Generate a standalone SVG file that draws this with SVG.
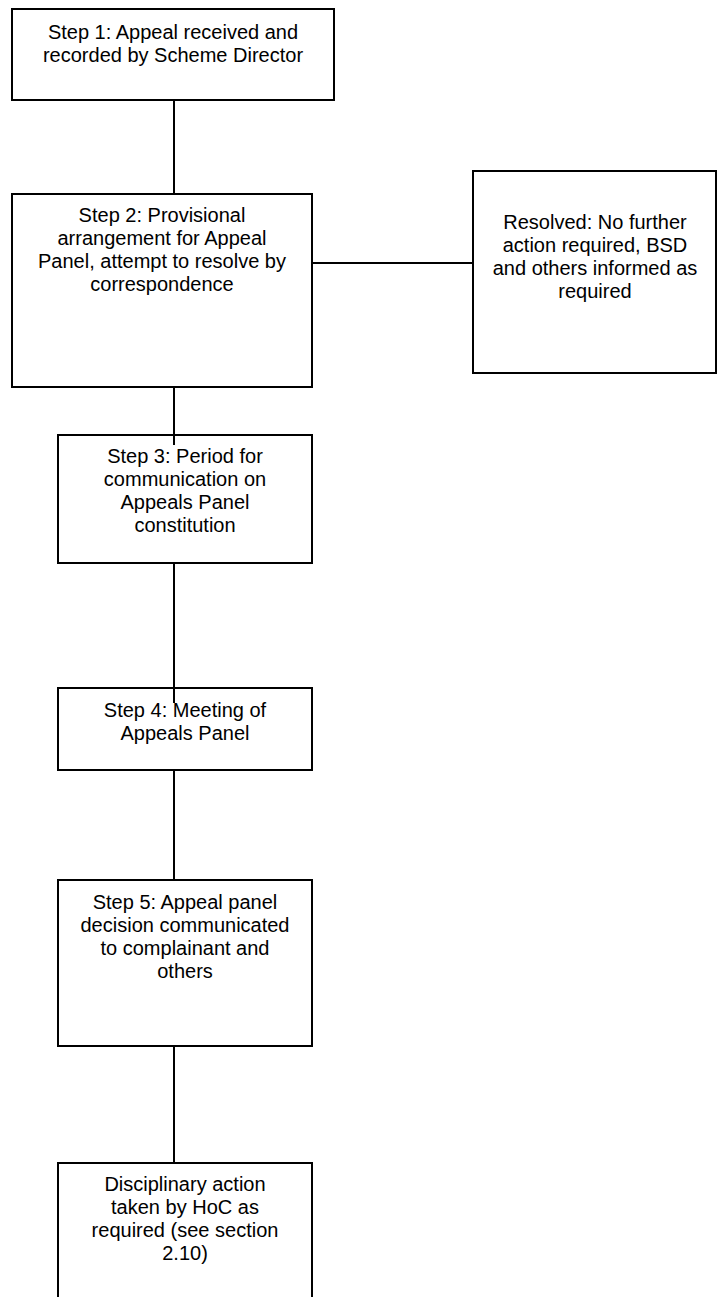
<svg xmlns="http://www.w3.org/2000/svg" width="718" height="1297" viewBox="0 0 718 1297">
<style>
.box{fill:#fff;stroke:#000;stroke-width:2}
.lbl{font-family:"Liberation Sans",Arial,sans-serif;font-size:20px;fill:#000;text-anchor:middle}
.conn{stroke:#000;stroke-width:2;fill:none}
</style>
<rect width="718" height="1297" fill="#fff"/>
<g id="step1">
<rect class="box" x="12" y="9" width="322" height="91"/>
<text class="lbl" x="173" y="38.5">Step 1: Appeal received and</text>
<text class="lbl" x="173" y="61.5">recorded by Scheme Director</text>
</g>
<g id="step2">
<rect class="box" x="12" y="194" width="300" height="193"/>
<text class="lbl" x="162" y="222">Step 2: Provisional</text>
<text class="lbl" x="162" y="245">arrangement for Appeal</text>
<text class="lbl" x="162" y="268">Panel, attempt to resolve by</text>
<text class="lbl" x="162" y="291">correspondence</text>
</g>
<g id="resolved">
<rect class="box" x="473" y="171" width="243" height="202"/>
<text class="lbl" x="595" y="229">Resolved: No further</text>
<text class="lbl" x="595" y="252">action required, BSD</text>
<text class="lbl" x="595" y="275">and others informed as</text>
<text class="lbl" x="595" y="298">required</text>
</g>
<g id="step3">
<rect class="box" x="58" y="435" width="254" height="128"/>
<text class="lbl" x="185" y="463">Step 3: Period for</text>
<text class="lbl" x="185" y="486">communication on</text>
<text class="lbl" x="185" y="509">Appeals Panel</text>
<text class="lbl" x="185" y="532">constitution</text>
</g>
<g id="step4">
<rect class="box" x="58" y="688" width="254" height="82"/>
<text class="lbl" x="185" y="717">Step 4: Meeting of</text>
<text class="lbl" x="185" y="740">Appeals Panel</text>
</g>
<g id="step5">
<rect class="box" x="58" y="880" width="254" height="166"/>
<text class="lbl" x="185" y="909">Step 5: Appeal panel</text>
<text class="lbl" x="185" y="932">decision communicated</text>
<text class="lbl" x="185" y="955">to complainant and</text>
<text class="lbl" x="185" y="978">others</text>
</g>
<g id="step6">
<rect class="box" x="58" y="1163" width="254" height="150"/>
<text class="lbl" x="185" y="1191">Disciplinary action</text>
<text class="lbl" x="185" y="1214">taken by HoC as</text>
<text class="lbl" x="185" y="1237">required (see section</text>
<text class="lbl" x="185" y="1260">2.10)</text>
</g>
<g id="connectors">
<line class="conn" x1="174" y1="100" x2="174" y2="194"/>
<line class="conn" x1="312" y1="263" x2="473" y2="263"/>
<line class="conn" x1="174" y1="387" x2="174" y2="445"/>
<line class="conn" x1="174" y1="563" x2="174" y2="703"/>
<line class="conn" x1="174" y1="770" x2="174" y2="880"/>
<line class="conn" x1="174" y1="1046" x2="174" y2="1163"/>
</g>
</svg>
